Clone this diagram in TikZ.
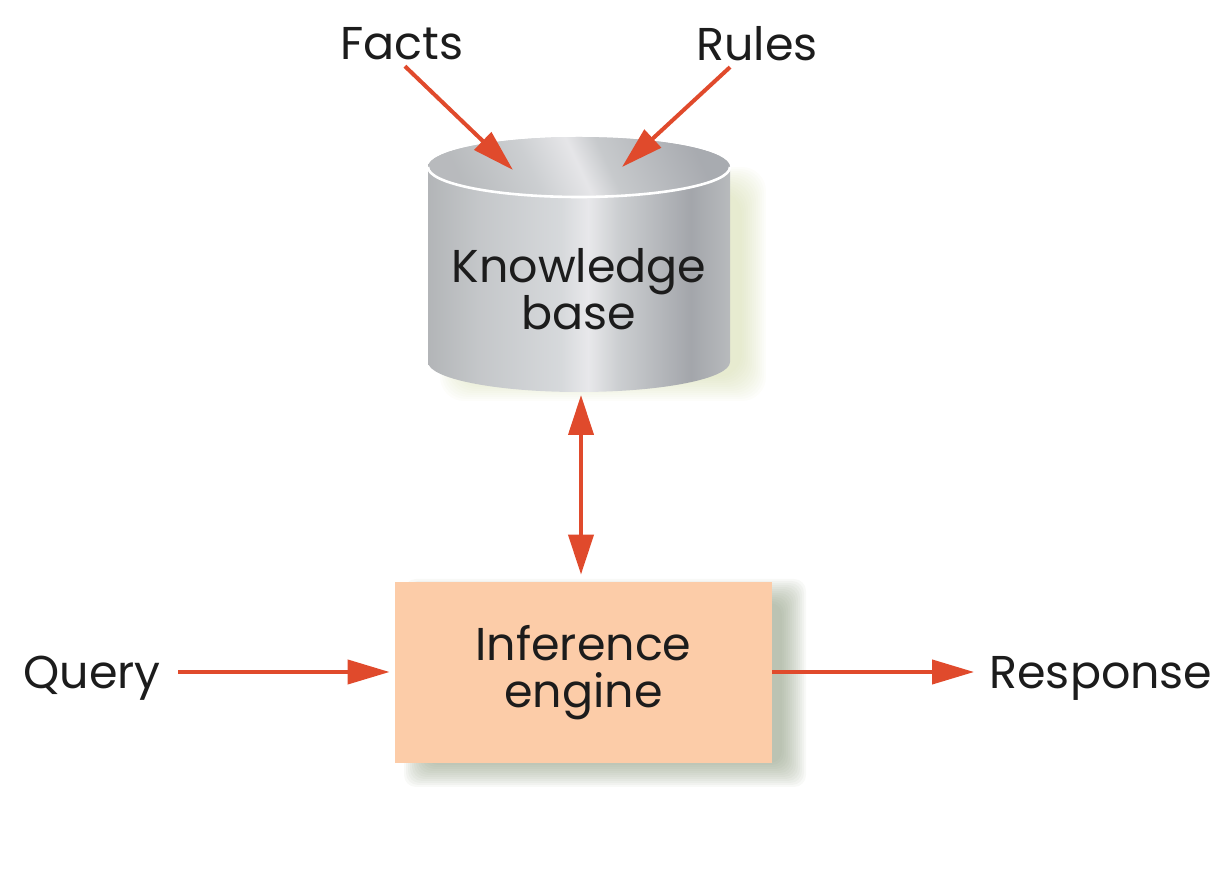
\documentclass[tikz,border=0pt]{standalone}
\usepackage{fontspec}
\setmainfont{Poppins}
\usepackage{xcolor}
\usepackage{tikz}
\usetikzlibrary{arrows.meta}

\definecolor{arrowc}{RGB}{224,74,44}
\definecolor{boxc}{RGB}{252,204,168}
\definecolor{inkc}{RGB}{28,28,28}
\definecolor{shadowc}{RGB}{130,145,115}
\definecolor{glowc}{RGB}{195,205,140}
\newcommand{\lblfont}{\fontsize{23}{23.5}\selectfont}

% metal look of the knowledge base drum
\pgfdeclarehorizontalshading{metal}{100bp}{rgb(0bp)=(.70,.71,.72); rgb(25bp)=(.70,.71,.72);
  rgb(33.5bp)=(.77,.78,.79); rgb(47bp)=(.84,.85,.86); rgb(51.5bp)=(.91,.91,.92);
  rgb(56.5bp)=(.80,.81,.82); rgb(68.5bp)=(.64,.65,.67); rgb(75bp)=(.72,.73,.74); rgb(100bp)=(.72,.73,.74)}
\pgfdeclarehorizontalshading{metaltop}{100bp}{rgb(0bp)=(.72,.73,.74); rgb(25bp)=(.72,.73,.74);
  rgb(40bp)=(.80,.81,.82); rgb(50bp)=(.90,.90,.91); rgb(56bp)=(.78,.79,.80);
  rgb(75bp)=(.66,.67,.69); rgb(100bp)=(.66,.67,.69)}

\begin{document}
\begin{tikzpicture}[x=0.5pt,y=0.5pt,
  lbl/.style={font=\lblfont, text=inkc, inner sep=2pt, text depth=0pt},
  flow/.style={draw=arrowc, line width=2pt, -{Triangle[length=21pt,width=12pt]}},
  both/.style={draw=arrowc, line width=2pt, {Triangle[length=20pt,width=12.5pt]}-{Triangle[length=20pt,width=12.5pt]}},
  iebox/.style={fill=boxc, minimum width=188.5pt, minimum height=90.5pt, align=center,
    font=\lblfont, text=inkc, inner sep=0pt}]
\useasboundingbox (0,0) rectangle (1232,873);

% soft shadows, stacked from wide and faint to narrow
\foreach \s in {-8,-6,...,16}
  \fill[glowc, opacity=0.04, rounded corners=12pt] (456-\s,488-\s) rectangle (750+\s,690+\s);
\foreach \s in {-8,-6,...,16}
  \fill[shadowc, opacity=0.06, rounded corners=6pt] (420-\s,102-\s) rectangle (790+\s,278+\s);

% knowledge base drum
\path[shading=metal]
  (428,706) -- (428,511) arc[start angle=180, end angle=360, x radius=75.5pt, y radius=15pt]
  -- (730,706) arc[start angle=0, end angle=180, x radius=75.5pt, y radius=15pt] -- cycle;
\path[shading=metaltop, shading angle=25] (579,706) ellipse [x radius=75.5pt, y radius=15pt];
\draw[white, line width=1.3pt] (428,706) arc[start angle=180, end angle=360, x radius=75.5pt, y radius=15pt];
\node[lbl, align=center, text depth=] (kb) at (579,584) {Knowledge\\base};
\coordinate (kbin1) at (513,703);
\coordinate (kbin2) at (622,706);
\coordinate (kbbot) at (581,478);

% inference engine and labels
\node[iebox] (ie) at (583.5,200.5) {Inference\\engine};
\node[lbl] (facts) at (402,830) {Facts};
\node[lbl] (rules) at (757,830) {Rules};
\node[lbl] (query) at (92,201) {Query};
\node[lbl] (response) at (1101,201) {Response};

% connectors
\draw[flow, shorten <=2pt] (facts.south) -- (kbin1);
\draw[flow, shorten <=2pt] ([xshift=-12pt]rules.south) -- (kbin2);
\draw[both, shorten >=3.5pt] (kbbot) -- (kbbot |- ie.north);
\draw[flow, shorten <=6.5pt, shorten >=2.5pt] (query.east) -- (query.east -| ie.west);
\draw[flow, shorten >=5.5pt] (ie.east |- response.west) -- (response.west);
\end{tikzpicture}
\end{document}
